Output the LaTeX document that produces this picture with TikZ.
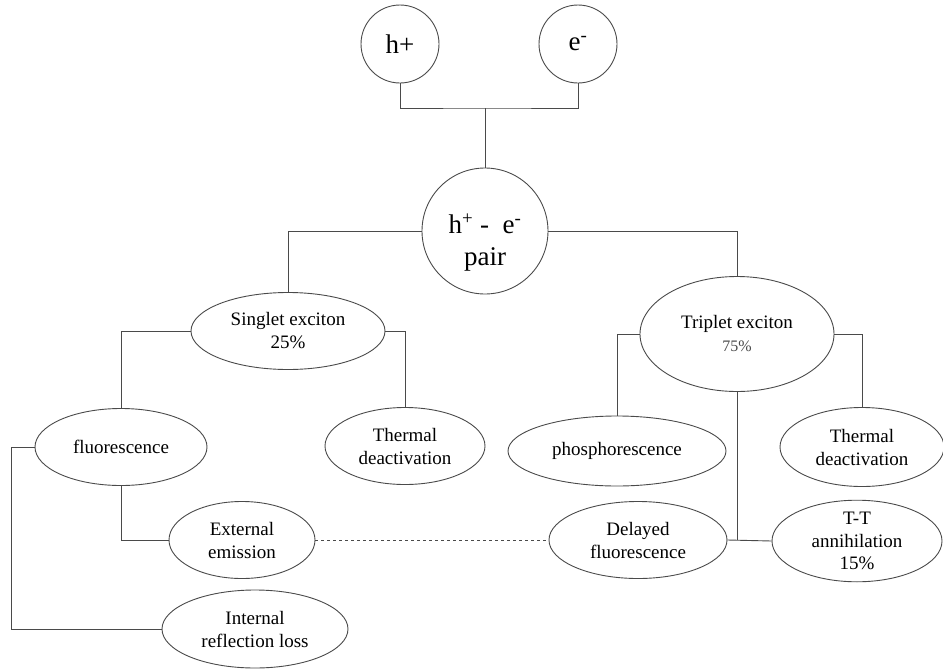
\documentclass[tikz,border=0pt]{standalone}
\usepackage{fontspec}
\setmainfont{Liberation Serif}
\usetikzlibrary{shapes.geometric}
\definecolor{linec}{HTML}{4A4A4A}
\tikzset{
  circ/.style={draw=linec, line width=0.9pt, circle, inner sep=0pt, align=center},
  ell/.style={draw=linec, line width=0.9pt, ellipse, inner sep=0pt, align=center,
    font=\fontsize{19}{23}\selectfont},
  conn/.style={draw=linec, line width=0.9pt},
  bigtxt/.style={font=\fontsize{27}{32}\selectfont, align=center, inner sep=0pt},
}
\begin{document}
\begin{tikzpicture}[x=1pt, y=-1pt]
\useasboundingbox (0,0) rectangle (943,672);
% top circles
\node[circ, minimum size=78pt, bigtxt] (hp) at (400,44) {h+};
\node[circ, minimum size=78pt, bigtxt] (em) at (578,44) {e\textsuperscript{-}};
\node[circ, minimum size=126pt] (pair) at (485,231) {};
\node[bigtxt] (pairtxt) at (485,243) {h\textsuperscript{+} - \ e\textsuperscript{-}\\pair};
% singlet branch
\node[ell, minimum width=194pt, minimum height=77pt] (sing) at (288,331) {Singlet exciton\\25\%};
\node[ell, minimum width=172pt, minimum height=77pt] (fl) at (121,447) {fluorescence};
\node[ell, minimum width=160pt, minimum height=77pt] (th1) at (405,446) {Thermal\\deactivation};
\node[ell, minimum width=146pt, minimum height=77pt] (ext) at (242,540) {External\\emission};
\node[ell, minimum width=186pt, minimum height=78pt] (int) at (255,629) {Internal\\reflection loss};
% triplet branch
\node[ell, minimum width=194pt, minimum height=115pt] (trip) at (737,334) {Triplet exciton\\{\fontsize{16}{19}\selectfont\color{linec}75\%}};
\node[ell, minimum width=218pt, minimum height=70pt] (ph) at (617,451) {phosphorescence};
\node[ell, minimum width=164pt, minimum height=79pt] (th2) at (862,447) {Thermal\\deactivation};
\node[ell, minimum width=178pt, minimum height=77pt] (del) at (638,540) {Delayed\\fluorescence};
\node[ell, minimum width=170pt, minimum height=78pt, font=\fontsize{19}{22.5}\selectfont] (tt) at (857,541) {T-T\\annihilation\\15\%};
% junctions
\coordinate (j) at (485,108);
\coordinate (lx) at (11,447);
% connectors
\draw[conn] (hp.south) |- (j) -| (em.south);
\draw[conn] (j) -- (pair.north);
\draw[conn] (pair.west) -| (sing.north);
\draw[conn] (pair.east) -| (trip.north);
\draw[conn] (sing.west) -| (fl.north);
\draw[conn] (sing.east) -| (th1.north);
\draw[conn] (fl.south) |- (ext.west);
\draw[conn] (fl.west) -- (lx) |- (int.west);
\draw[conn, dashed, line width=0.7pt] (ext.east) -- (del.west);
\draw[conn] (trip.west) -| (ph.north);
\draw[conn] (trip.east) -| (th2.north);
\draw[conn] (trip.south) -- (trip.south |- del.east);
\draw[conn] (del.east) -- (tt.west);
\end{tikzpicture}
\end{document}
